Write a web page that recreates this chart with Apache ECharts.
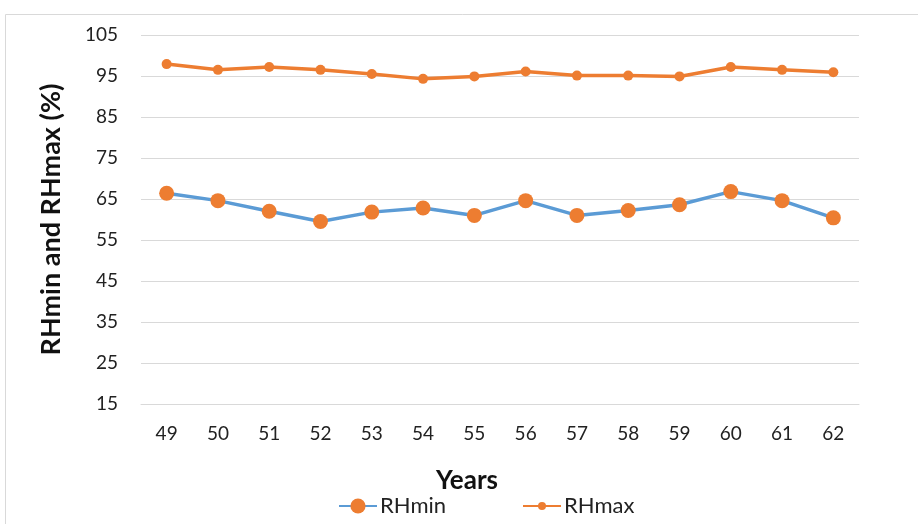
<!DOCTYPE html>
<html>
<head>
<meta charset="utf-8">
<script src="https://cdn.jsdelivr.net/npm/echarts@6/dist/echarts.min.js"></script>
<style>
  html, body { margin: 0; padding: 0; background: #fff; }
  #chart { width: 918px; height: 524px; }
</style>
</head>
<body>
<div id="chart"></div>
<script>
// Yearly relative humidity, minimum and maximum (%)
const years = ['49', '50', '51', '52', '53', '54', '55', '56', '57', '58', '59', '60', '61', '62'];
const rhMin = [66.4, 64.6, 62.0, 59.5, 61.8, 62.8, 61.0, 64.6, 61.0, 62.2, 63.6, 66.8, 64.6, 60.4];
const rhMax = [97.9, 96.5, 97.2, 96.5, 95.5, 94.3, 94.9, 96.1, 95.1, 95.1, 94.9, 97.2, 96.5, 95.9];
const yTicks = { min: 15, max: 105, interval: 10 };

const FONT = 'Lato, "Liberation Sans", sans-serif';
const BLUE = '#5B9BD5';
const ORANGE = '#ED7D31';

const legendText = { fontSize: 22, color: '#222', fontFamily: FONT, padding: [0, 0, 0, -2] };

const chart = echarts.init(document.getElementById('chart'));
chart.setOption({
  animation: false,
  textStyle: { fontFamily: FONT },
  graphic: [{
    type: 'rect',
    shape: { x: 5.5, y: 14.5, width: 1000, height: 600 },
    style: { fill: 'none', stroke: '#d9d9d9', lineWidth: 1 },
    silent: true
  }],
  grid: { left: 141, right: 59, top: 35, bottom: 120 },
  xAxis: {
    type: 'category',
    data: years,
    boundaryGap: true,
    axisLine: { show: true, lineStyle: { color: '#d9d9d9', width: 1 } },
    axisTick: { show: false },
    axisLabel: { color: '#222', fontSize: 19, margin: 20, fontFamily: FONT },
    name: 'Years',
    nameLocation: 'middle',
    nameGap: 64,
    nameTextStyle: {
      fontSize: 26, fontWeight: 'bold', color: '#111', fontFamily: FONT,
      padding: [0, 66, 0, 0]
    }
  },
  yAxis: {
    type: 'value',
    min: yTicks.min,
    max: yTicks.max,
    interval: yTicks.interval,
    axisLine: { show: false },
    axisTick: { show: false },
    splitLine: { lineStyle: { color: '#d9d9d9', width: 1 } },
    axisLabel: { color: '#222', fontSize: 19, margin: 23, fontFamily: FONT },
    name: 'RHmin and RHmax (%)',
    nameLocation: 'middle',
    nameGap: 76,
    nameRotate: 90,
    nameTextStyle: { fontSize: 27, fontWeight: 'bold', color: '#111', fontFamily: FONT }
  },
  legend: [
    {
      left: 333, top: 490,
      itemWidth: 38, itemHeight: 19,
      textStyle: legendText,
      data: ['RHmin']
    },
    {
      left: 517, top: 490,
      itemWidth: 38, itemHeight: 10,
      textStyle: legendText,
      data: ['RHmax']
    }
  ],
  series: [
    {
      name: 'RHmin',
      type: 'line',
      data: rhMin,
      symbol: 'circle',
      symbolSize: 15,
      lineStyle: { color: BLUE, width: 3.5 },
      itemStyle: { color: ORANGE, borderWidth: 0 }
    },
    {
      name: 'RHmax',
      type: 'line',
      data: rhMax,
      symbol: 'circle',
      symbolSize: 10,
      lineStyle: { color: ORANGE, width: 3.5 },
      itemStyle: { color: ORANGE, borderWidth: 0 }
    }
  ]
});
</script>
</body>
</html>
